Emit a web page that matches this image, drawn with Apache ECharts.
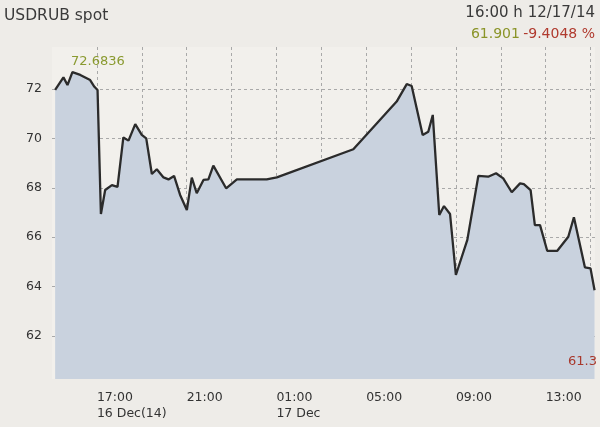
<!DOCTYPE html>
<html>
<head>
<meta charset="utf-8">
<script src="https://cdn.jsdelivr.net/npm/echarts@6/dist/echarts.min.js"></script>
<style>
html,body{margin:0;padding:0;background:#eeece8;}
#c{width:600px;height:427px;}
</style>
</head>
<body>
<div id="c"></div>
<script>
// Hours after 15:00 on 16 Dec 2014
var hours = [0.14, 0.51, 0.69, 0.91, 1.26, 1.70, 1.89, 2.03, 2.18, 2.37, 2.67, 2.92, 3.18, 3.41, 3.71, 4.00, 4.20, 4.45, 4.67, 4.97, 5.19, 5.44, 5.71, 6.01, 6.23, 6.45, 6.75, 6.97, 7.19, 7.76, 8.24, 9.57, 10.02, 13.43, 15.36, 15.81, 16.03, 16.52, 16.77, 16.97, 17.26, 17.47, 17.74, 18.00, 18.51, 19.00, 19.44, 19.79, 20.11, 20.49, 20.86, 21.03, 21.33, 21.52, 21.75, 22.07, 22.52, 23.01, 23.26, 23.75, 24.00, 24.18];
var prices = [71.96, 72.47, 72.16, 72.68, 72.57, 72.36, 72.09, 71.96, 66.94, 67.91, 68.11, 68.04, 70.04, 69.91, 70.58, 70.14, 70.00, 68.56, 68.75, 68.42, 68.34, 68.48, 67.71, 67.10, 68.41, 67.78, 68.32, 68.34, 68.90, 67.98, 68.34, 68.34, 68.42, 69.56, 71.49, 72.20, 72.12, 70.14, 70.27, 70.95, 66.90, 67.26, 66.94, 64.47, 65.89, 68.48, 68.45, 68.59, 68.38, 67.82, 68.18, 68.15, 67.91, 66.49, 66.49, 65.45, 65.45, 66.02, 66.81, 64.78, 64.74, 63.85];
var tickLabels = {2: '17:00\n16 Dec(14)', 6: '21:00', 10: '01:00\n17 Dec', 14: '05:00', 18: '09:00', 22: '13:00'};
var titleText = 'USDRUB spot';
var stampText = '16:00 h 12/17/14';
var lastValue = '61.901';
var changeText = '-9.4048 %';
var highText = '72.6836';
var lowText = '61.3';

var data = hours.map(function (h, i) { return [h, prices[i]]; });
var FONT = 'DejaVu Sans';

var chart = echarts.init(document.getElementById('c'), null, {renderer: 'canvas'});
chart.setOption({
  backgroundColor: '#eeece8',
  animation: false,
  grid: {left: 52, right: 5, top: 47, bottom: 48, show: true, backgroundColor: '#f2f0ec', borderWidth: 0},
  xAxis: {
    type: 'value', min: 0, max: 24.2, interval: 2,
    axisLine: {show: false}, axisTick: {show: false},
    splitLine: {show: true, showMinLine: false, showMaxLine: false, lineStyle: {color: '#a9a9a9', type: [3, 3], width: 1}},
    axisLabel: {
      margin: 11, align: 'left', color: '#333333', fontFamily: FONT, fontSize: 12.5, lineHeight: 16,
      showMinLabel: false, showMaxLabel: false,
      formatter: function (v) { return tickLabels[Math.round(v)] && Math.abs(v - Math.round(v)) < 1e-6 ? tickLabels[Math.round(v)] : ''; }
    }
  },
  yAxis: {
    type: 'value', min: 60.26, max: 73.7, splitNumber: 7,
    axisLine: {show: false}, axisTick: {show: false},
    splitLine: {show: true, showMinLine: false, showMaxLine: false, lineStyle: {color: '#a9a9a9', type: [3, 3], width: 1}},
    axisLabel: {margin: 10, color: '#333333', fontFamily: FONT, fontSize: 12.5, showMinLabel: false, showMaxLabel: false,
      formatter: function (v) { return Math.abs(v - Math.round(v)) < 1e-6 ? String(Math.round(v)) : ''; }}
  },
  series: [{
    type: 'line', data: data, symbol: 'none', smooth: false,
    lineStyle: {color: '#2b2b2b', width: 2.3},
    areaStyle: {color: '#c9d2de', opacity: 1}
  }],
  graphic: [
    {type: 'text', z: 100, left: 4, top: 8, style: {text: titleText, font: '15.5px "DejaVu Sans"', fill: '#3a3a3a'}},
    {type: 'text', z: 100, right: 5, top: 6, style: {text: stampText, font: '15px "DejaVu Sans"', fill: '#3a3a3a'}},
    {type: 'text', z: 100, right: 5, top: 27, style: {
      text: '{a|' + lastValue + '} {b|' + changeText + '}',
      rich: {a: {fill: '#8a9428', font: '14px "DejaVu Sans"'}, b: {fill: '#b03a2e', font: '14px "DejaVu Sans"'}}
    }},
    {type: 'text', z: 100, left: 71, top: 55, style: {text: highText, font: '13px "DejaVu Sans"', fill: '#8a9a30'}},
    {type: 'text', z: 100, x: 568, y: 355, style: {text: lowText, font: '13px "DejaVu Sans"', fill: '#a8382c'}}
  ]
});
</script>
</body>
</html>
